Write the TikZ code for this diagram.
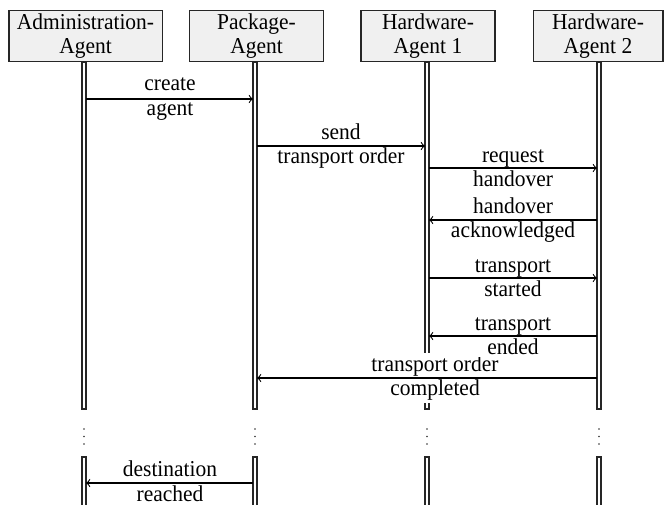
\documentclass[tikz,border=0pt]{standalone}
\usepackage{fontspec}
\setmainfont{Liberation Serif}[FakeStretch=0.945]
\begin{document}
\begin{tikzpicture}[x=0.4664pt,y=-0.4664pt,
  agentbox/.style={draw=black!85, fill=black!6, line width=0.5pt, align=center,
    minimum width=62.5pt, minimum height=23.8pt, inner xsep=3.7pt, inner ysep=0pt,
    font=\fontsize{10.6}{11.4}\selectfont},
  life/.style={draw=black!85, fill=white, line width=0.5pt},
  msg/.style={fill=white, align=center, inner xsep=1pt, inner ysep=1pt,
    font=\fontsize{10.6}{11.4}\selectfont},
  arr/.style={->, line width=0.5pt, draw=black},
  dot/.style={fill=black!80, draw=none}]
\useasboundingbox (0,0) rectangle (664,504);

% lifelines (upper part)
\draw[life] (82,62) rectangle (86,409);
\draw[life] (253,62) rectangle (257,409);
\draw[life] (425,62) rectangle (429,409);
\draw[life] (597,62) rectangle (601,409);
% lifelines (lower part)
\draw[life] (82,457) rectangle (86,506);
\draw[life] (253,457) rectangle (257,506);
\draw[life] (425,457) rectangle (429,506);
\draw[life] (597,457) rectangle (601,506);
% continuation dots
\foreach \x in {84,255,427,599}{
  \foreach \y in {429,436.5,444}{
    \fill[dot] (\x,\y) circle[radius=0.9];
  }
}

% agent boxes
\node[agentbox] (A) at (85.5,36.3) {Administration-\\Agent};
\node[agentbox] (P) at (256.5,36.3) {Package-\\Agent};
\node[agentbox] (H1) at (428,36.3) {Hardware-\\Agent 1};
\node[agentbox, minimum width=60.6pt] (H2) at (598,36.3) {Hardware-\\Agent 2};

% message end points
\coordinate (m1s) at (86,99);   \coordinate (m1e) at (253,99);
\coordinate (m2s) at (257,146); \coordinate (m2e) at (425,146);
\coordinate (m3s) at (429,168); \coordinate (m3e) at (597,168);
\coordinate (m4s) at (597,220); \coordinate (m4e) at (429,220);
\coordinate (m5s) at (429,278); \coordinate (m5e) at (597,278);
\coordinate (m6s) at (597,336); \coordinate (m6e) at (429,336);
\coordinate (m7s) at (597,378); \coordinate (m7e) at (257,378);
\coordinate (m8s) at (253,483); \coordinate (m8e) at (86,483);

% message labels
\node[msg] (t1) at (170,99) {create\\agent};
\node[msg] (t2) at (341,146) {send\\transport order};
\node[msg] (t3) at (513,168) {request\\handover};
\node[msg] (t4) at (513,220) {handover\\acknowledged};
\node[msg] (t5) at (513,278) {transport\\started};
\node[msg] (t7) at (435,378) {transport order\\completed};
\node[msg] (t6) at (513,336) {transport\\ended};
\node[msg] (t8) at (170,481) {destination\\reached};

% messages
\draw[arr] (m1s) -- (m1e);
\draw[arr] (m2s) -- (m2e);
\draw[arr] (m3s) -- (m3e);
\draw[arr] (m4s) -- (m4e);
\draw[arr] (m5s) -- (m5e);
\draw[arr] (m6s) -- (m6e);
\draw[arr] (m7s) -- (m7e);
\draw[arr] (m8s) -- (m8e);
\end{tikzpicture}
\end{document}
